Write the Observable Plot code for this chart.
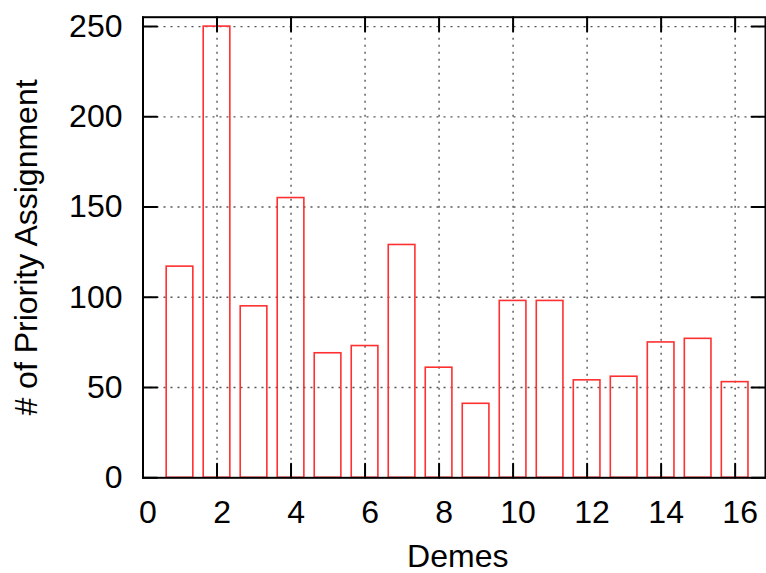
<!DOCTYPE html>
<html>
<head>
<meta charset="utf-8">
<script src="https://cdn.jsdelivr.net/npm/d3@7"></script>
<script src="https://cdn.jsdelivr.net/npm/@observablehq/plot@0.6"></script>
<style>
  html, body { margin: 0; padding: 0; background: #fff; }
  #chart svg { display: block; }
</style>
</head>
<body>
<div id="chart"></div>
<script>
// Priority assignments per deme
const demes  = [1, 2, 3, 4, 5, 6, 7, 8, 9, 10, 11, 12, 13, 14, 15, 16];
const counts = [117, 250, 95, 155, 69, 73, 129, 61, 41, 98, 98, 54, 56, 75, 77, 53];

// Axis ticks
const xTicks = [0, 2, 4, 6, 8, 10, 12, 14, 16];
const yTicks = [0, 50, 100, 150, 200, 250];

const xLabel = "Demes";
const yLabel = "# of Priority Assignment";

const rows = demes.map((d, i) => ({deme: d, count: counts[i]}));

const xMax = 16.82;
const yMax = 255.2;
const barWidth = 0.72;
const font = 32;

// straight inward tick segment for the vector mark
const tickShape = {
  draw(context, l) {
    context.moveTo(0, 0);
    context.lineTo(0, -l);
  }
};
const tickLen = 14;
const tickStyle = {shape: tickShape, length: tickLen, anchor: "start", stroke: "black", strokeWidth: 2};
const gridStyle = {stroke: "#555", strokeWidth: 1.4, strokeDasharray: "2,5"};

const chart = Plot.plot({
  width: 766,
  height: 573,
  marginLeft: 142.5,
  marginRight: 1,
  marginTop: 16.7,
  marginBottom: 95.7,
  style: {fontFamily: "'Liberation Sans', Arial, Helvetica, sans-serif", background: "#fff", color: "#000"},
  x: {domain: [0, xMax], axis: null},
  y: {domain: [0, yMax], axis: null},
  marks: [
    // dotted grid
    Plot.ruleX(xTicks.filter(t => t > 0), {x: d => d, ...gridStyle}),
    Plot.ruleY(yTicks.filter(t => t > 0), {y: d => d, ...gridStyle}),
    // hollow bars
    Plot.rect(rows, {
      x1: d => d.deme - barWidth / 2,
      x2: d => d.deme + barWidth / 2,
      y1: 0,
      y2: "count",
      fill: "none",
      stroke: "#ff3030",
      strokeWidth: 1.6
    }),
    // border
    Plot.frame({stroke: "black", strokeWidth: 2}),
    // inward ticks on all four sides
    Plot.vector(xTicks, {x: d => d, y: 0, rotate: 0, ...tickStyle}),
    Plot.vector(xTicks, {x: d => d, y: yMax, rotate: 180, ...tickStyle}),
    Plot.vector(yTicks, {x: 0, y: d => d, rotate: 90, ...tickStyle}),
    Plot.vector(yTicks, {x: xMax, y: d => d, rotate: 270, ...tickStyle}),
    // tick labels
    Plot.text(xTicks, {
      x: d => d, text: d => String(d), frameAnchor: "bottom",
      lineAnchor: "top", dy: 22.7, dx: 5, fontSize: font, fill: "black"
    }),
    Plot.text(yTicks, {
      y: d => d, text: d => String(d), frameAnchor: "left",
      textAnchor: "end", lineAnchor: "middle", dx: -20.5, fontSize: font, fill: "black"
    }),
    // axis titles
    Plot.text([xLabel], {
      text: d => d, frameAnchor: "bottom", lineAnchor: "middle",
      dy: 78.5, dx: 3.5, fontSize: font, fill: "black"
    }),
    Plot.text([yLabel], {
      text: d => d, frameAnchor: "left", rotate: -90, lineAnchor: "middle",
      textAnchor: "middle", dx: -116.7, fontSize: font, fill: "black"
    })
  ]
});

document.getElementById("chart").appendChild(chart);
</script>
</body>
</html>
